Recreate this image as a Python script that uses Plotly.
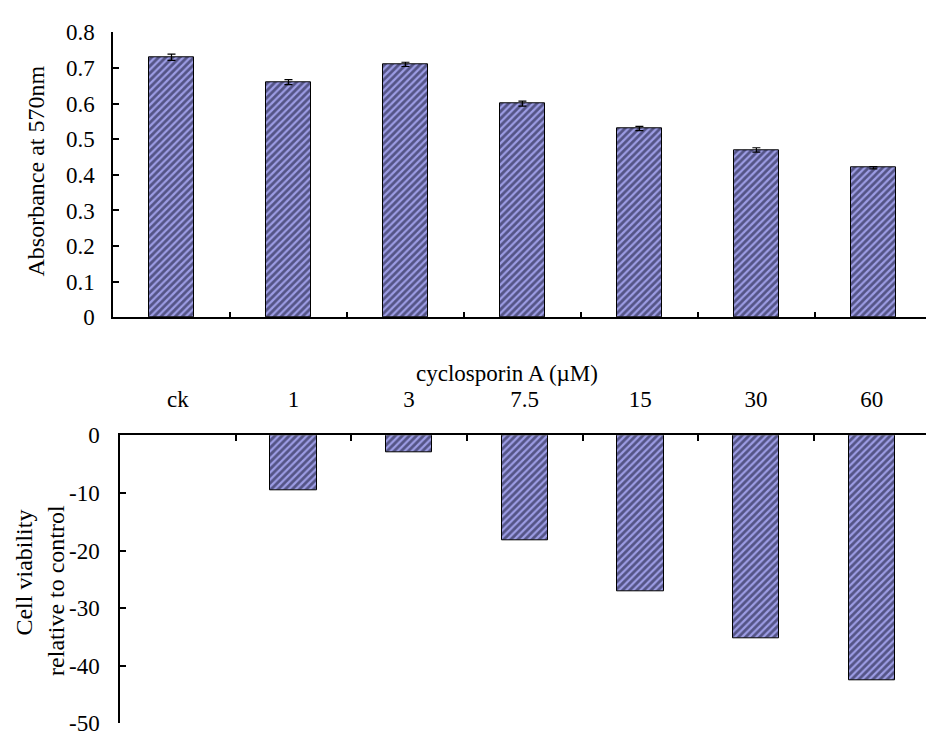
import plotly.graph_objects as go

# Cyclosporin A concentrations (µM)
categories = ["ck", "1", "3", "7.5", "15", "30", "60"]
# Absorbance at 570 nm and its standard error
absorbance = [0.73, 0.66, 0.71, 0.60, 0.53, 0.47, 0.42]
absorbance_err = [0.009, 0.007, 0.006, 0.007, 0.006, 0.006, 0.003]
# Cell viability change relative to control (%)
viability = [0, -9.5, -3.0, -18.2, -27.1, -35.3, -42.5]

top_ticks = [0, 0.1, 0.2, 0.3, 0.4, 0.5, 0.6, 0.7, 0.8]
bottom_ticks = [0, -10, -20, -30, -40, -50]

W, H = 926, 745
FONT = "Liberation Serif"
BAR_FILL = "#9c9ce4"
HATCH = "#0c0c28"

x = list(range(len(categories)))
boundaries = [i + 0.5 for i in range(len(categories) - 1)]

hatch = dict(shape="/", fgcolor=HATCH, bgcolor=BAR_FILL, size=5, solidity=0.55)
# the control bar has zero height: no outline so no stray line is drawn
outline_w = [0 if v == 0 else 1 for v in viability]

fig = go.Figure()
fig.add_trace(go.Bar(
    x=x, y=absorbance, width=0.39,
    marker=dict(color=BAR_FILL, pattern=hatch, line=dict(color="black", width=1)),
    error_y=dict(type="data", array=absorbance_err, color="black", thickness=1.2, width=4),
    xaxis="x", yaxis="y", showlegend=False,
))
fig.add_trace(go.Bar(
    x=x, y=viability, width=0.40,
    marker=dict(color=BAR_FILL, pattern=hatch, line=dict(color="black", width=outline_w)),
    xaxis="x2", yaxis="y2", showlegend=False,
))

axis_common = dict(showline=True, linecolor="black", linewidth=1.5, showgrid=False,
                   zeroline=False, tickfont=dict(family=FONT, size=23, color="black"))

fig.update_layout(
    width=W, height=H,
    margin=dict(l=0, r=0, t=0, b=0),
    paper_bgcolor="white", plot_bgcolor="white",
    font=dict(family=FONT, color="black"),
    bargap=0,
    xaxis=dict(
        domain=[113 / W, 1], range=[-0.5, 6.45], anchor="y",
        tickmode="array", tickvals=boundaries, ticktext=[""] * len(boundaries),
        ticks="inside", ticklen=6, tickwidth=1.5, tickcolor="black",
        **axis_common,
    ),
    yaxis=dict(
        domain=[(H - 316) / H, (H - 21) / H], range=[0, 0.8], anchor="x",
        tickmode="array", tickvals=top_ticks, ticktext=[f"{v:g}" for v in top_ticks],
        ticks="inside", ticklen=6, tickwidth=1.5, tickcolor="black",
        ticklabelstandoff=12,
        **axis_common,
    ),
    xaxis2=dict(
        domain=[120 / W, 1], range=[-0.5, 6.47], anchor="y2", side="top",
        tickmode="array", tickvals=x, ticktext=categories, ticks="",
        ticklabelstandoff=17,
        minor=dict(tickvals=boundaries, ticks="inside", ticklen=6, tickwidth=1.5,
                   tickcolor="black"),
        **axis_common,
    ),
    yaxis2=dict(
        domain=[(H - 736) / H, (H - 438) / H], range=[-50, 0], anchor="x2",
        tickmode="array", tickvals=bottom_ticks, ticktext=[f"{v:g}" for v in bottom_ticks],
        ticks="inside", ticklen=6, tickwidth=1.5, tickcolor="black",
        ticklabelstandoff=14,
        **axis_common,
    ),
)

fig.add_annotation(text="Absorbance at 570nm", textangle=-90, showarrow=False,
                   xref="paper", yref="paper", x=36 / W, y=(H - 165) / H,
                   xanchor="center", yanchor="middle",
                   font=dict(family=FONT, size=24, color="black"))
fig.add_annotation(text="cyclosporin A (µM)", showarrow=False,
                   xref="paper", yref="paper", x=507 / W, y=(H - 374) / H,
                   xanchor="center", yanchor="middle",
                   font=dict(family=FONT, size=23, color="black"))
fig.add_annotation(text="Cell viability", textangle=-90, showarrow=False,
                   xref="paper", yref="paper", x=24 / W, y=(H - 580) / H,
                   xanchor="center", yanchor="middle",
                   font=dict(family=FONT, size=24, color="black"))
fig.add_annotation(text="relative to control", textangle=-90, showarrow=False,
                   xref="paper", yref="paper", x=56 / W, y=(H - 599) / H,
                   xanchor="center", yanchor="middle",
                   font=dict(family=FONT, size=24, color="black"))

fig.write_html("out.html")
